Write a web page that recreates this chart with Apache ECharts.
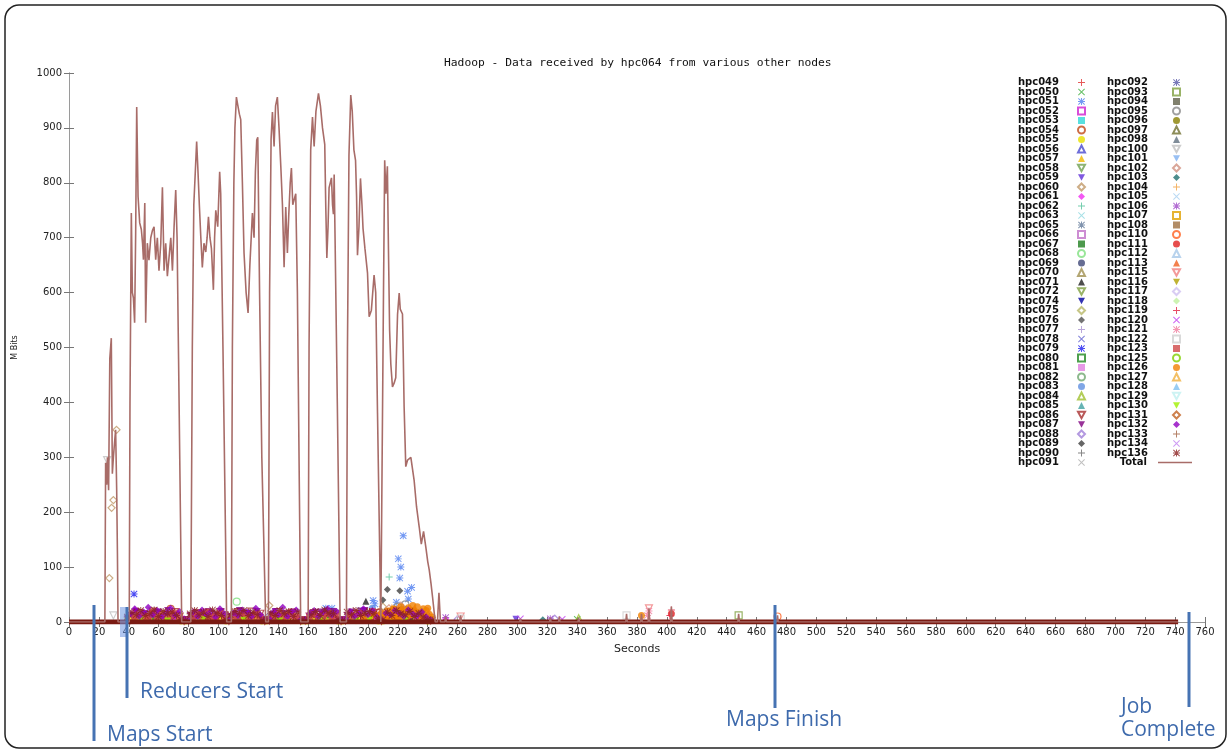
<!DOCTYPE html>
<html>
<head>
<meta charset="utf-8">
<script src="https://cdn.jsdelivr.net/npm/echarts@6/dist/echarts.min.js"></script>
<style>
html, body { margin: 0; background: #fff; }
#chart { width: 1232px; height: 752px; }
</style>
</head>
<body>
<div id="chart"></div>
<script>
// legend columns, as printed in the key
const hostsCol1 = ['hpc049','hpc050','hpc051','hpc052','hpc053','hpc054','hpc055','hpc056','hpc057','hpc058','hpc059','hpc060','hpc061',
  'hpc062','hpc063','hpc065','hpc066','hpc067','hpc068','hpc069','hpc070','hpc071','hpc072','hpc074','hpc075','hpc076',
  'hpc077','hpc078','hpc079','hpc080','hpc081','hpc082','hpc083','hpc084','hpc085','hpc086','hpc087','hpc088','hpc089',
  'hpc090','hpc091'];
const hostsCol2 = ['hpc092','hpc093','hpc094','hpc095','hpc096','hpc097','hpc098','hpc100','hpc101','hpc102','hpc103',
  'hpc104','hpc105','hpc106','hpc107','hpc108','hpc110','hpc111','hpc112','hpc113','hpc115','hpc116','hpc117','hpc118',
  'hpc119','hpc120','hpc121','hpc122','hpc123','hpc125','hpc126','hpc127','hpc128','hpc129','hpc130','hpc131','hpc132',
  'hpc133','hpc134','hpc136'];

const xTicks = { min: 0, max: 760, step: 20 };
const yTicks = { min: 0, max: 1000, step: 100 };

// Total received (seconds, M Bits)
const totalPts = [
  [0,0],[24,0],[24.5,290],[25.2,250],[25.7,300],[26.5,240],[27.3,480],[28.3,517],[29,270],[29.7,300],[30.6,331],[31.2,350],[31.9,240],[32.4,125],[32.8,0],
  [40.3,0],[40.8,400],[41.7,745],[42.4,600],[43.1,590],[43.9,545],[44.6,708],[45.3,938],[46.2,775],[47.3,727],[48.4,715],[49.2,690],[49.8,660],[50.7,763],[51.3,545],
  [52.4,690],[53.5,659],[54.7,700],[55.8,713],[56.9,720],[58,660],[59.1,700],[60.2,640],[61.4,690],[62.5,792],[63.6,640],[64.7,690],[65.8,630],[66.9,627],
  [68.1,700],[69.2,640],[70.3,720],[71.4,787],[72.3,700],[73.3,480],[75.4,0],
  [81.5,0],[82.5,500],[83.5,760],[84.5,820],[85.4,875],[86.3,820],[87.2,760],[88.2,700],[89.2,646],[90.3,690],[91.5,674],[92.4,700],[93.3,738],[94.3,700],
  [95.3,680],[96.6,605],[97.4,700],[98.2,750],[99.5,720],[100.8,820],[101.5,780],[103,500],[105.5,0],
  [108.6,0],[109.3,500],[110.3,800],[111,900],[112,956],[113,940],[114,925],[114.9,915],[116,800],[117.1,672],[118.5,600],[119.8,563],[121,650],[122.7,745],
  [123.8,700],[124.7,820],[125.6,878],[126.3,883],[127.5,600],[129,300],[131.6,0],
  [133.4,0],[134.2,600],[135.2,880],[136.1,929],[137.2,866],[138.2,940],[139.4,956],[140.5,900],[141.7,830],[142.8,760],[143.9,646],[145,756],[146.1,672],
  [147,740],[148,800],[148.8,827],[149.7,760],[150.6,757],[151.7,780],[152.8,600],[155,0],
  [160,0],[160.6,500],[161.7,860],[162.9,920],[164,866],[165.2,930],[166.9,963],[168.2,940],[169.6,900],[171.1,870],[171.8,755],[172.5,663],[173.3,720],
  [174,791],[175.6,809],[176.3,760],[176.9,743],[177.4,815],[178,700],[179.5,400],[181.4,0],
  [185.6,0],[186.3,500],[187.3,850],[188.5,960],[189.5,930],[190.6,860],[191.7,841],[192.4,774],[193,668],[194,720],[195,808],[196,760],[196.7,717],
  [198,680],[199.7,636],[200.8,556],[202.3,568],[204.1,632],[205.2,600],[206.4,380],[208.6,0],
  [209.5,0],[210.4,600],[211.2,841],[212,780],[213,830],[213.7,683],[214.5,531],[215.3,470],[216.4,428],[217.5,435],[218.6,445],[219.8,560],[220.9,599],
  [221.6,570],[223.1,561],[223.6,491],[224.2,392],[225.3,283],[226.5,295],[228.7,300],[230.9,258],[232.5,210],[234.3,173],[235.7,142],[237.2,165],
  [238.7,137],[240,110],[241,95],[242.2,70],[243.2,46],[245,0],
  [246.5,0],[247.5,53],[248.5,0],[251.5,0],[252,10],[252.5,0],[261.5,0],[262,12],[262.5,0],[301.5,0],[302,6],[302.5,0],[321.5,0],[322,8],[322.5,0],
  [327.5,0],[328,10],[328.5,0],[340.5,0],[341,8],[341.5,0],[372.5,0],[373,15],[373.5,0],[382.5,0],[383,15],[383.5,0],[387.5,0],[388,25],[388.5,0],
  [402.5,0],[403,28],[403.5,0],[447.5,0],[448,15],[448.5,0],[473.5,0],[474,12],[474.5,0],[742,0]
];

// the per-node points all sitting at zero
const baselineSpan = [[0,0],[742,0]];

// dense per-node band under the bursts
const cloudTimesA = [33,36,39,42,45,48,51,54,57,60,63,66,69,72,75,78,81,84,87,90,93,96,99,102,105,108,111,114,117,120,123,126,
  129,132,135,138,141,144,147,150,153,156,159,162,165,168,171,174,177,180,183,186,189,192,195,198,201,204,207,210,213,216,219,
  222,225,228,231,234,237,240,243];
const cloudTimesB = [35,38,41,44,47,50,53,56,59,62,65,68,71,74,77,80,83,86,89,92,95,98,101,104,107,110,113,116,119,122,125,128,
  131,134,137,140,143,146,149,152,155,158,161,164,167,170,173,176,179,182,185,188,191,194,197,200,203,206,209,212,215,218,221,
  224,227,230,233,236,239,242,245];
const hpc136Cloud = [null,null,9,18,13,21,12,16,22,10, 19,15,18,12,4,3,15,21,13,18, 10,22,16,12,4,13,19,15,21,12,
  18,13,3,4,16,12,21,15,19,10, 18,4,3,13,19,12,22,16,15,4, 3,18,13,21,12,16,19,15,6,4, 18,12,21,15,13,19,10,16,9,4,3];
const hpc087Cloud = [null,null,6,12,19,9,15,7,13,18, 10,21,9,13,3,4,12,7,16,10, 19,9,13,18,3,10,15,21,9,16,
  12,19,4,3,13,19,9,15,10,18, 7,3,4,16,10,18,9,13,19,3, 4,12,18,9,15,21,10,13,4,3, 9,15,10,19,13,7,16,12,6,3,null];
const hpc055Cloud = [null,null,3,8,5,11,6,3,9,5, 12,6,8,3,2,2,6,11,5,8, 3,9,5,6,2,8,5,9,3,11,
  6,5,2,2,8,3,9,5,6,11, 3,2,2,8,5,9,3,6,11,2, 2,5,9,3,8,5,11,6,2,2, 5,8,3,9,6,5,8,3,5,2,null];
const hpc132Cloud = [null,null,15,24,10,18,27,13,21,9, 16,25,12,19,6,3,18,10,22,13, 19,9,24,15,3,16,12,22,18,10,
  25,13,4,6,19,13,27,10,18,22, 4,3,15,21,10,18,24,13,19,3, 6,19,10,16,24,13,21,9,4,16, 13,21,16,10,22,15,12,18,9,4,null];
const hpc123Cloud = [null,null,null,8,13,6,10,18,8,13, 4,12,16,9,3,null,9,13,6,18, 10,8,15,10,null,12,8,16,10,6,
  13,9,null,3,10,15,8,12,18,9, 3,null,9,15,6,12,16,9,13,null, 3,13,8,16,10,6,19,12,null,10, 15,19,12,18,13,21,15,10,8,3,null];
const hpc086Cloud = [null,null,4,10,16,8,13,19,9,15, 6,13,18,10,2,3,8,16,12,9, 15,6,18,12,2,9,18,6,13,19,
  8,15,2,3,12,18,8,15,6,13, 2,3,10,16,8,13,18,9,15,2, 3,9,15,6,18,12,8,16,2,12, 18,9,15,21,12,16,8,13,10,3,null];

// scattered node readings (seconds, M Bits)
const hpc051Pts = [[223.6,157],[220.3,115],[222,100],[221.3,80],[226.5,56],[229.2,63],[227,42],[203.5,39],[204.6,33],[219,36],[171.8,25],[175.9,25]];
const hpc060Pts = [[27,80],[28.5,208],[29.7,222],[31.8,350],[134,30],[62,14],[210,28]];
const hpc100Pts = [[25.5,295],[29.7,12]];
const hpc126Pts = [[198,6],[201,10],[204,14],[207,9],[209,16],[211,12],[213,20],[215,11],[217,24],[219,15],[221,8],[223,22],[225,18],
  [227,26],[229,13],[231,20],[233,28],[235,17],[237,24],[239,21],[241,14],[243,9],[212,6],[216,14],[220,19],[224,12],[228,20],
  [232,16],[236,11],[240,25],[230,30],[226,9],[222,28],[218,7],[214,16],[383,12]];
const hpc130Pts = [[48,3],[66,2],[90,4],[117,3],[141,2],[168,3],[192,2],[201,4],[225,3]];
const hpc050Pts = [[100,12],[118,8],[145,14],[171,10],[200,9],[340,5]];
const hpc057Pts = [[52,10],[78,4],[99,14],[121,8],[146,12],[166,9],[191,14],[217,18],[238,12]];
const hpc067Pts = [[58,8],[84,12],[113,6],[139,10],[175,13],[199,7],[228,10]];
const hpc068Pts = [[112.2,37],[88,10],[136,12],[164,9]];
const hpc061Pts = [[44,22],[70,6],[96,8],[150,10],[178,7],[205,5],[232,8],[252,6]];
const hpc054Pts = [[68,24],[93,10],[126,14],[170,12],[208,18],[218,22]];
const hpc078Pts = [[86,17],[131,10],[230,12]];
const hpc059Pts = [[47,14],[97,9],[123,11],[148,16],[195,20],[299,5]];
const hpc120Pts = [[302,6],[330,5]];
const hpc113Pts = [[205,14],[219,10],[234,16]];
const hpc071Pts = [[198.6,38]];
const hpc089Pts = [[213,59],[221.3,57],[210,40]];
const hpc076Pts = [[236,20]];
const hpc062Pts = [[214.2,82]];
const hpc079Pts = [[43.5,51]];
const hpc121Pts = [[388,20],[387,12]];
const hpc115Pts = [[262,10],[388,25]];
const hpc119Pts = [[403,22],[402,12]];
const hpc111Pts = [[403,15],[220,14]];
const hpc110Pts = [[474,10]];
const hpc093Pts = [[448,12]];
const hpc122Pts = [[373,12],[262,6]];
const hpc106Pts = [[252,8],[322,6]];
const hpc088Pts = [[325,6],[260,5]];
const hpc103Pts = [[317,4]];
const hpc084Pts = [[341,7]];
const hpc104Pts = [[230,20],[216,26]];
const hpc083Pts = [[226,14],[203,25]];
const hpc102Pts = [[222,30],[214,25],[231,22]];
const hpc095Pts = [[225,32],[220,28]];
const hpc096Pts = [[217,20]];

const milestones = [['Maps Start', 16.7], ['Reducers Start', 38.8], ['Maps Finish', 472.5], ['Job\nComplete', 749]];

// gnuplot point colours, in key order
const hostColors = [
  '#e03030','#40b040','#5080f0','#d020d0','#30d8d8','#c04818','#e8e000','#4848d0','#f0b800','#70a050','#6030d8','#c09868','#f030f0',
  '#50c098','#90d8e0','#607898','#c070c8','#208020','#80e080','#404878','#a09050','#202020','#80a040','#0000a0','#b8b868','#505050',
  '#a890d0','#6060d0','#2020f0','#208820','#e080e0','#70a870','#6090e0','#a0c030','#40a0a0','#a83030','#800080','#a080d8','#404040',
  '#686868','#b0b0b0',
  '#5858a8','#80a040','#606048','#888888','#888000','#707030','#607080','#c0c0c0','#80b0f0','#d09080','#207070',
  '#f0a040','#a8d0f0','#a048c8','#e0a000','#a07040','#ff6020','#e02020','#a8c8e8','#f06020','#f08080','#b0a000','#d0c0f0','#c0f0a0',
  '#e02040','#c040f0','#f080a0','#d0d0d0','#d04848','#80d000','#f08000','#f0b040','#80c0f0','#c0f0f0','#a0f000','#c06020','#9000c0',
  '#a06040','#c080f0','#8b2020'
];

const PLUS = 'M4.3,0H5.7V4.3H10V5.7H5.7V10H4.3V5.7H0V4.3H4.3Z';
const CROSS = 'M1,0L5,4L9,0L10,1L6,5L10,9L9,10L5,6L1,10L0,9L4,5L0,1Z';
const DOWN = 'M0,0H10L5,9Z';
// the 13 point types cycle through the key
const pointTypes = [
  ['path://' + PLUS, false], ['path://' + CROSS, false], ['path://' + PLUS + CROSS, false],
  ['rect', true], ['rect', false], ['circle', true], ['circle', false],
  ['triangle', true], ['triangle', false], ['path://' + DOWN, true], ['path://' + DOWN, false],
  ['diamond', true], ['diamond', false]
];

function zip(times, vals) {
  const out = [];
  vals.forEach(function (v, i) { if (v != null) out.push([times[i], v]); });
  return out;
}

const hostData = {
  hpc136: zip(cloudTimesA, hpc136Cloud), hpc087: zip(cloudTimesA, hpc087Cloud), hpc055: zip(cloudTimesA, hpc055Cloud),
  hpc132: zip(cloudTimesB, hpc132Cloud), hpc123: zip(cloudTimesB, hpc123Cloud), hpc086: zip(cloudTimesB, hpc086Cloud),
  hpc051: hpc051Pts, hpc060: hpc060Pts, hpc100: hpc100Pts, hpc126: hpc126Pts, hpc130: hpc130Pts, hpc050: hpc050Pts,
  hpc057: hpc057Pts, hpc067: hpc067Pts,
  hpc068: hpc068Pts, hpc061: hpc061Pts, hpc054: hpc054Pts, hpc078: hpc078Pts, hpc059: hpc059Pts, hpc120: hpc120Pts,
  hpc113: hpc113Pts, hpc071: hpc071Pts, hpc089: hpc089Pts, hpc076: hpc076Pts, hpc062: hpc062Pts, hpc079: hpc079Pts,
  hpc121: hpc121Pts, hpc115: hpc115Pts, hpc119: hpc119Pts, hpc111: hpc111Pts, hpc110: hpc110Pts, hpc093: hpc093Pts,
  hpc122: hpc122Pts, hpc106: hpc106Pts, hpc088: hpc088Pts, hpc103: hpc103Pts, hpc084: hpc084Pts, hpc104: hpc104Pts,
  hpc083: hpc083Pts, hpc102: hpc102Pts, hpc095: hpc095Pts, hpc096: hpc096Pts
};

const chart = echarts.init(document.getElementById('chart'));

const hosts = hostsCol1.concat(hostsCol2);
const series = hosts.map(function (h, i) {
  const pt = pointTypes[i % 13];
  const c = hostColors[i];
  return {
    name: h,
    type: 'scatter',
    symbol: pt[0],
    symbolSize: 7,
    itemStyle: pt[1] ? { color: 'rgba(255,255,255,0)', borderColor: c, borderWidth: 1.2 } : { color: c },
    data: hostData[h] || [],
    z: 2
  };
});
series.push({
  name: 'zero', type: 'line', data: baselineSpan, symbol: 'none', silent: true,
  lineStyle: { color: '#7a1a12', width: 5 }, z: 3
});
series.push({
  name: 'Total', type: 'line', data: totalPts, symbol: 'none',
  lineStyle: { color: '#a86c68', width: 1.6 }, itemStyle: { color: '#a86c68' }, z: 4
});

const frameColor = '#9a9a9a';
const tickFont = { fontFamily: 'DejaVu Sans', fontSize: 10, color: '#222' };
function legendCol(names, right, top, gap, iconW, iconH) {
  return {
    data: names, orient: 'vertical', right: right, top: top, align: 'right', padding: 0,
    itemGap: -0.5, itemWidth: iconW, itemHeight: iconH, selectedMode: false,
    textStyle: { fontFamily: 'DejaVu Sans', fontWeight: 'bold', fontSize: 10, lineHeight: 9, color: '#111', padding: [0, gap, 0, 0] }
  };
}
const totalKey = legendCol(['Total'], 40, 457.5, 6, 34, 1.5);
totalKey.icon = 'rect';

chart.setOption({
  animation: false,
  title: {
    text: 'Hadoop - Data received by hpc064 from various other nodes',
    left: 439, top: 53,
    textStyle: { fontFamily: 'DejaVu Sans Mono', fontSize: 11.3, fontWeight: 'normal', color: '#111' }
  },
  grid: { left: 69, top: 73, right: 27, bottom: 130 },
  legend: [
    legendCol(hostsCol1, 146, 77.5, 14, 7, 7),
    legendCol(hostsCol2, 51, 77.5, 20, 7, 7),
    totalKey
  ],
  xAxis: [{
    type: 'value', min: xTicks.min, max: xTicks.max, interval: xTicks.step,
    name: 'Seconds', nameLocation: 'middle', nameGap: 22,
    nameTextStyle: { fontFamily: 'DejaVu Sans', fontSize: 11, color: '#222' },
    axisLine: { lineStyle: { color: frameColor } },
    axisTick: { inside: true, length: 5, lineStyle: { color: '#777' } },
    axisLabel: Object.assign({ margin: 5 }, tickFont),
    splitLine: { show: false }
  }, {
    type: 'value', position: 'top', min: xTicks.min, max: xTicks.max, interval: xTicks.step,
    axisLine: { lineStyle: { color: frameColor } },
    axisTick: { inside: true, length: 5, lineStyle: { color: '#777' } },
    axisLabel: { show: false }, splitLine: { show: false }
  }],
  yAxis: [{
    type: 'value', min: yTicks.min, max: yTicks.max, interval: yTicks.step,
    name: 'M Bits', nameLocation: 'middle', nameGap: 50, nameRotate: 90,
    nameTextStyle: { fontFamily: 'DejaVu Sans', fontSize: 8, color: '#222' },
    axisLine: { show: true, lineStyle: { color: frameColor } },
    axisTick: { show: true, inside: true, length: 5, lineStyle: { color: '#777' } },
    axisLabel: Object.assign({ margin: 7, formatter: function (v) { return String(v); } }, tickFont),
    splitLine: { show: false }
  }, {
    type: 'value', position: 'right', min: yTicks.min, max: yTicks.max, interval: yTicks.step,
    axisLine: { show: true, lineStyle: { color: frameColor } },
    axisTick: { show: true, inside: true, length: 5, lineStyle: { color: '#777' } },
    axisLabel: { show: false }, splitLine: { show: false }
  }],
  series: series
});

// annotation overlay: blue markers under the x axis
const blue = '#4673b3';
const noteLayout = [
  { y1: 605, y2: 741, dx: 13, ty: 735 },
  { y1: 607, y2: 698, dx: 13, ty: 692 },
  { y1: 605, y2: 708, dx: -49, ty: 720 },
  { y1: 612, y2: 707, dx: -68, ty: 718.5 }
];
const graphics = [{
  type: 'rect', z: 100, silent: true,
  shape: { x: 5, y: 5, width: 1221, height: 743, r: 14 },
  style: { fill: 'none', stroke: '#222', lineWidth: 1.5 }
}];
milestones.forEach(function (m, i) {
  const x = Math.round(chart.convertToPixel({ xAxisIndex: 0 }, m[1]));
  const L = noteLayout[i];
  if (i === 1) {
    graphics.push({ type: 'rect', z: 99, shape: { x: x - 7, y: 607, width: 6, height: 30 }, style: { fill: 'rgba(110,150,225,0.55)' } });
  }
  graphics.push({ type: 'line', z: 100, shape: { x1: x, y1: L.y1, x2: x, y2: L.y2 }, style: { stroke: blue, lineWidth: 3 } });
  graphics.push({
    type: 'text', z: 100, x: x + L.dx, y: L.ty,
    style: { text: m[0], fontFamily: 'Open Sans', fontSize: 21, lineHeight: 23, fill: '#3e6aac', verticalAlign: 'middle' }
  });
});
chart.setOption({ graphic: graphics });
</script>
</body>
</html>
